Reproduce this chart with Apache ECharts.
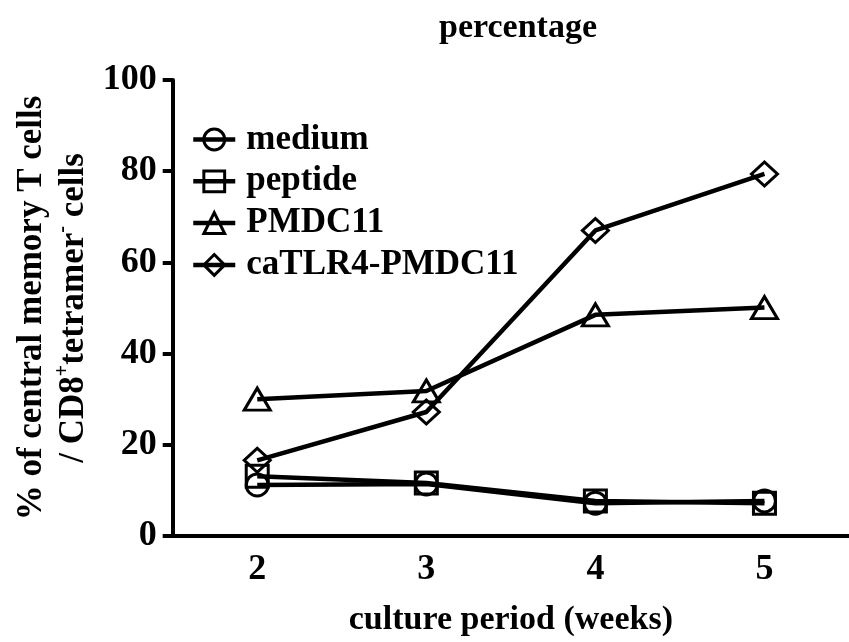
<!DOCTYPE html>
<html>
<head>
<meta charset="utf-8">
<script src="https://cdn.jsdelivr.net/npm/echarts@6/dist/echarts.min.js"></script>
<style>html,body{margin:0;padding:0;background:#fff}#c{width:849px;height:642px}</style>
</head>
<body>
<div id="c"></div>
<script>
var weeks = ['2', '3', '4', '5'];
var medium = [11.2, 11.4, 7.2, 7.7];
var peptide = [13.1, 11.6, 7.7, 7.2];
var pmdc11 = [30.0, 31.8, 48.5, 50.1];
var caTLR4 = [16.6, 27.2, 67.0, 79.4];
var yTicks = [0, 20, 40, 60, 80, 100];

var FONT = 'Liberation Serif';
function mk(name, data, symbol, size) {
  return {
    name: name, type: 'line', data: data,
    symbol: symbol, symbolSize: size, showAllSymbol: true,
    lineStyle: { color: '#000', width: 4.5 },
    itemStyle: { color: 'rgba(255,255,255,0)', borderColor: '#000', borderWidth: 3 },
    emphasis: { disabled: true }
  };
}
var chart = echarts.init(document.getElementById('c'));
chart.setOption({
  animation: false,
  backgroundColor: '#fff',
  title: {
    text: 'percentage', left: 513, top: 6, textAlign: 'center',
    textStyle: { fontFamily: FONT, fontWeight: 'bold', fontSize: 34, color: '#000' }
  },
  legend: {
    orient: 'vertical', left: 186, top: 117,
    itemWidth: 42, itemHeight: 26, itemGap: 6.8,
    lineStyle: { color: '#000', width: 4.5 },
    itemStyle: { color: 'rgba(255,255,255,0)', borderColor: '#000', borderWidth: 3 },
    textStyle: { fontFamily: FONT, fontWeight: 'bold', fontSize: 35, lineHeight: 34, color: '#000', padding: [0, 0, 0, 6] },
    data: ['medium', 'peptide', 'PMDC11', 'caTLR4-PMDC11']
  },
  grid: { left: 172.7, right: -9.7, top: 80, bottom: 106, containLabel: false },
  xAxis: {
    type: 'category', data: weeks, boundaryGap: true,
    name: 'culture period (weeks)', nameLocation: 'middle', nameGap: 67,
    nameTextStyle: { fontFamily: FONT, fontWeight: 'bold', fontSize: 34, color: '#000', verticalAlign: 'top' },
    axisLine: { lineStyle: { color: '#000', width: 4 } },
    axisTick: { alignWithLabel: true, length: 10, lineStyle: { color: '#000', width: 4 } },
    axisLabel: { margin: 16, fontFamily: FONT, fontWeight: 'bold', fontSize: 36, color: '#000' },
    splitLine: { show: false }
  },
  yAxis: {
    type: 'value', min: yTicks[0], max: yTicks[yTicks.length - 1], interval: 20,
    name: '{a|% of central memory T cells}\n{a|/ CD8}{s|+}{a|tetramer}{s|-}{a| cells}',
    nameLocation: 'middle', nameGap: 77, nameRotate: 90,
    nameTextStyle: {
      fontFamily: FONT, fontWeight: 'bold', fontSize: 34, color: '#000',
      rich: {
        a: { fontFamily: FONT, fontWeight: 'bold', fontSize: 35, lineHeight: 42, color: '#000' },
        s: { fontFamily: FONT, fontWeight: 'bold', fontSize: 20, lineHeight: 42, color: '#000', verticalAlign: 'top', padding: [0, 0, 14, 0] }
      }
    },
    axisLine: { show: true, lineStyle: { color: '#000', width: 4 } },
    axisTick: { show: true, length: 10, lineStyle: { color: '#000', width: 4 } },
    axisLabel: { margin: 16, fontFamily: FONT, fontWeight: 'bold', fontSize: 36, color: '#000' },
    splitLine: { show: false }
  },
  series: [
    mk('medium', medium, 'circle', 22),
    mk('peptide', peptide, 'rect', 22),
    mk('PMDC11', pmdc11, 'triangle', [26, 22]),
    mk('caTLR4-PMDC11', caTLR4, 'diamond', [26, 24])
  ]
});
</script>
</body>
</html>
